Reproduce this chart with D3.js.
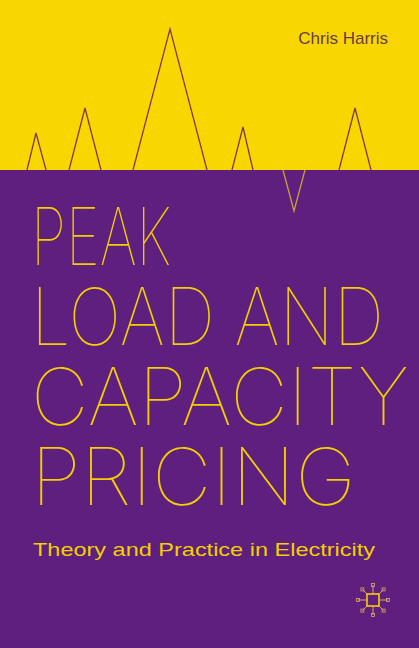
<!DOCTYPE html>
<html><head><meta charset="utf-8">
<script src="https://cdn.jsdelivr.net/npm/d3@7"></script>
<style>body{margin:0;background:#5e1f7e}svg{display:block}</style>
</head><body><div id="main"></div>
<script>
const W = 419, H = 648;
const BASE = 170;

// spikes: [start x, apex x, end x, height above baseline (negative = dip)]
const spikeStart = [27, 69, 133, 232, 283, 339];
const spikeApex  = [36, 85, 170, 243, 294, 355];
const spikeEnd   = [46, 101, 207, 253, 305, 371];
const spikeValue = [37, 62, 141, 43, -41, 62];

const titleLines = ["PEAK", "LOAD AND", "CAPACITY", "PRICING"];
const titleBaselines = [265, 345, 425, 505];
const titleWidths = [140, 353, 378, 325];

var svg = d3.select("#main").append("svg").attr("width", W).attr("height", H);

svg.append("rect").attr("width", W).attr("height", BASE).attr("fill", "#f8d700");
svg.append("rect").attr("y", BASE).attr("width", W).attr("height", H - BASE).attr("fill", "#5e1f7e");

var y = d3.scaleLinear().domain([0, 141]).range([BASE, 29]);

var line = d3.line().x(d => d[0]).y(d => y(d[1]));
spikeStart.forEach(function(s, i){
    svg.append("path")
       .attr("d", line([[s, 0], [spikeApex[i], spikeValue[i]], [spikeEnd[i], 0]]))
       .attr("fill", "none").attr("stroke", spikeValue[i] < 0 ? "#c9a230" : "#7a3b4e")
       .attr("stroke-width", 1.3);
});

svg.append("text").attr("x", 388).attr("y", 44).attr("text-anchor", "end")
   .attr("font-family", "Liberation Sans, Arial").attr("font-size", 17)
   .attr("fill", "#6a3a55").text("Chris Harris");

svg.selectAll("text.title").data(titleLines).enter().append("text")
   .attr("class", "title")
   .attr("x", 31).attr("y", (d, i) => titleBaselines[i])
   .attr("font-family", "Inter").attr("font-weight", 100)
   .attr("font-size", 79).attr("fill", "#f3cf00")
   .attr("textLength", (d, i) => titleWidths[i])
   .attr("lengthAdjust", "spacingAndGlyphs")
   .text(d => d);

svg.append("text").attr("x", 33).attr("y", 556)
   .attr("font-family", "Liberation Sans, Arial").attr("font-size", 19)
   .attr("fill", "#f3cf00").attr("textLength", 342).attr("lengthAdjust", "spacingAndGlyphs")
   .text("Theory and Practice in Electricity");

// logo
var g = svg.append("g").attr("transform", "translate(373,600)");
d3.range(8).forEach(function(k){
    var a = k * Math.PI / 4, r = 15;
    var px = Math.sin(a) * r, py = -Math.cos(a) * r;
    g.append("line").attr("x1", 0).attr("y1", 0).attr("x2", px).attr("y2", py)
     .attr("stroke", "#d9a860").attr("stroke-width", 1);
    g.append("rect").attr("x", px - 1.5).attr("y", py - 1.5).attr("width", 3).attr("height", 3)
     .attr("fill", "none").attr("stroke", "#d9a860").attr("stroke-width", 0.8);
});
g.append("rect").attr("x", -6).attr("y", -6).attr("width", 12).attr("height", 12)
 .attr("fill", "#5e1f7e").attr("stroke", "#f3cf00").attr("stroke-width", 1.6);
</script></body></html>
